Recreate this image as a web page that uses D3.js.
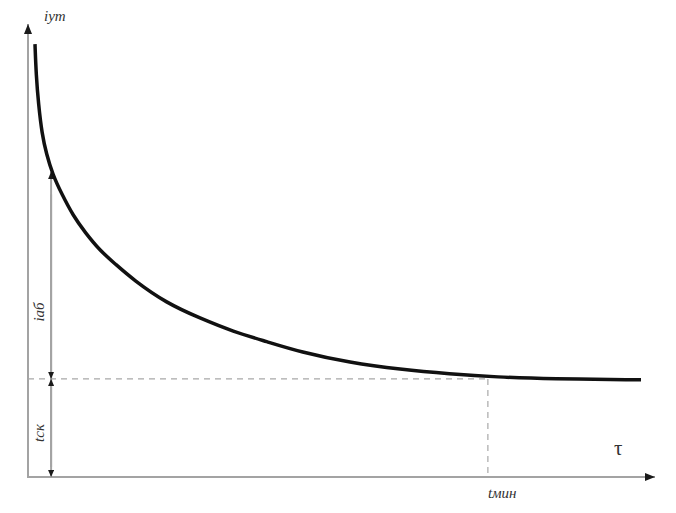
<!DOCTYPE html>
<html>
<head>
<meta charset="utf-8">
<script src="https://cdn.jsdelivr.net/npm/d3@7"></script>
<style>
  html, body { margin: 0; padding: 0; background: #fff; }
  svg { display: block; }
</style>
</head>
<body>
<svg id="chart" width="676" height="513"></svg>
<script>
// ---- data (in chart units: tau 0..100, i 0..100) ----
const curveTau = [1.12, 1.31, 1.68, 2.24, 2.96, 3.93, 5.40, 7.26, 9.13, 11.54, 13.94, 16.88, 22.23, 27.56, 32.90, 38.25, 43.59, 51.60, 59.62, 67.63, 75.16, 83.65, 98.24];
const curveI   = [96.2, 89.3, 82.9, 76.2, 71.8, 67.3, 62.9, 58.0, 54.4, 50.3, 47.4, 43.8, 38.6, 35.3, 32.3, 30.1, 27.8, 25.4, 23.9, 22.9, 22.2, 21.8, 21.6];
const iSk = 21.8;          // asymptotic level (tск)
const tMin = 73.7;         // tмин
const dimTau = 3.7;        // position of dimension line
const dimTop = 67.8;       // top of iаб dimension
const labels = { yAxis: "iут", xAxis: "τ", iab: "iаб", tsk: "tск", tmin: "tмин" };

const svg = d3.select("#chart");
const x = d3.scaleLinear().domain([0, 100]).range([28, 652]);
const y = d3.scaleLinear().domain([0, 100]).range([477, 27]);

const axisColor = "#a3a3a3";
const defs = svg.append("defs");
function marker(id, w, h) {
  defs.append("marker").attr("id", id)
    .attr("viewBox", `0 0 ${w} ${h}`).attr("refX", w).attr("refY", h / 2)
    .attr("markerWidth", w).attr("markerHeight", h)
    .attr("markerUnits", "userSpaceOnUse").attr("orient", "auto")
    .append("path").attr("d", `M0,0L${w},${h/2}L0,${h}Z`).attr("fill", "#1a1a1a");
}
marker("axArrow", 10, 8);
marker("dimArrow", 7, 6);

// axes
svg.append("line").attr("x1", x(0)).attr("y1", y(0)).attr("x2", x(0)).attr("y2", 24)
  .attr("stroke", axisColor).attr("stroke-width", 2).attr("marker-end", "url(#axArrow)");
svg.append("line").attr("x1", x(0) - 1).attr("y1", y(0)).attr("x2", 655).attr("y2", y(0))
  .attr("stroke", axisColor).attr("stroke-width", 2).attr("marker-end", "url(#axArrow)");

// dashed guides
svg.append("line").attr("x1", x(0)).attr("y1", y(iSk)).attr("x2", x(tMin)).attr("y2", y(iSk))
  .attr("stroke", "#a8a8a8").attr("stroke-width", 1.2).attr("stroke-dasharray", "6,5");
svg.append("line").attr("x1", x(tMin)).attr("y1", y(iSk)).attr("x2", x(tMin)).attr("y2", y(0))
  .attr("stroke", "#a8a8a8").attr("stroke-width", 1.2).attr("stroke-dasharray", "6,5");

// dimension lines
svg.append("line").attr("x1", x(dimTau)).attr("y1", y(iSk)).attr("x2", x(dimTau)).attr("y2", y(dimTop))
  .attr("stroke", axisColor).attr("stroke-width", 2).attr("marker-end", "url(#dimArrow)");
svg.append("line").attr("x1", x(dimTau)).attr("y1", y(dimTop - 5)).attr("x2", x(dimTau)).attr("y2", y(iSk))
  .attr("stroke", axisColor).attr("stroke-width", 2).attr("marker-end", "url(#dimArrow)");
svg.append("line").attr("x1", x(dimTau)).attr("y1", y(iSk)).attr("x2", x(dimTau)).attr("y2", y(0))
  .attr("stroke", axisColor).attr("stroke-width", 2).attr("marker-end", "url(#dimArrow)");
svg.append("line").attr("x1", x(dimTau)).attr("y1", y(0) - 10).attr("x2", x(dimTau)).attr("y2", y(iSk))
  .attr("stroke", axisColor).attr("stroke-width", 2).attr("marker-end", "url(#dimArrow)");

// curve
const pts = curveTau.map((t, k) => [t, curveI[k]]);
svg.append("path").datum(pts)
  .attr("d", d3.line().x(d => x(d[0])).y(d => y(d[1])).curve(d3.curveBasis))
  .attr("fill", "none").attr("stroke", "#111").attr("stroke-width", 3.5);

// labels
function label(txt, italic, size) {
  return svg.append("text").text(txt)
    .style("font-family", "'Liberation Serif'")
    .style("font-style", italic ? "italic" : "normal")
    .style("font-size", size + "px")
    .style("fill", "#333");
}
label(labels.yAxis, true, 15).attr("x", 44).attr("y", 21);
label(labels.xAxis, false, 21).attr("x", 614).attr("y", 455);
label(labels.iab, true, 15).attr("text-anchor", "middle")
  .attr("transform", "translate(44,312) rotate(-90)");
label(labels.tsk, true, 15).attr("text-anchor", "middle")
  .attr("transform", "translate(44,433) rotate(-90)");
label(labels.tmin, true, 15).attr("x", x(tMin)).attr("y", 498);
</script>
</body>
</html>
